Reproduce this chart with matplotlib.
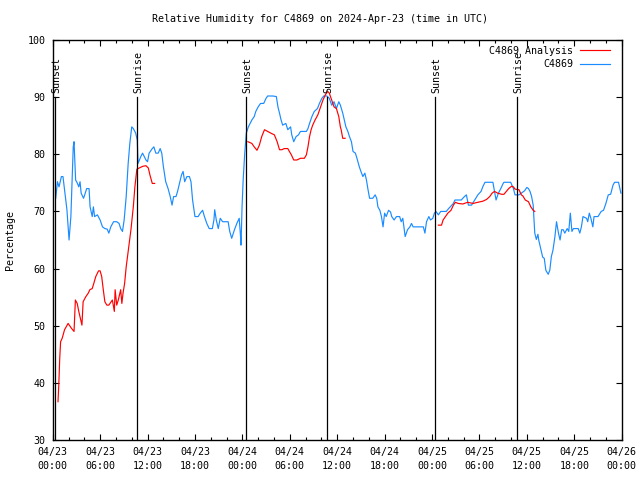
import numpy as np
import pandas as pd
import matplotlib
matplotlib.use("Agg")
import matplotlib.pyplot as plt

# hours since 2024-04-23 00:00 UTC
blue_h = [0.38, 0.6, 0.8, 1.1, 1.3, 1.5, 1.8, 2.07, 2.3, 2.6, 2.7, 2.9, 3.1, 3.3, 3.46, 3.6, 3.9, 4.05,
          4.3, 4.6, 4.73, 5.0, 5.15, 5.3, 5.66, 6.0, 6.3, 6.6, 6.9, 7.1, 7.35, 7.7, 8.1, 8.4, 8.6, 8.83,
          9.04, 9.3, 9.55, 9.76, 10.0, 10.2, 10.5, 10.7, 10.8, 11.15, 11.37, 11.8, 12.0, 12.2, 12.6, 12.8,
          13.05, 13.35, 13.6, 13.8, 14.0, 14.3, 14.6, 14.87, 15.1, 15.3, 15.6, 15.8, 16.1, 16.3, 16.5,
          16.7, 16.98, 17.3, 17.5, 17.7, 18.0, 18.4, 18.67, 18.97, 19.2, 19.5, 19.8, 20.2, 20.4, 20.5,
          20.7, 20.95, 21.2, 21.5, 22.2, 22.4, 22.65, 23.0, 23.3, 23.6, 23.74, 23.83, 23.96, 24.1, 24.3,
          24.5, 24.76, 25.2, 25.5, 25.7, 26.0, 26.3, 26.7, 27.0, 27.2, 27.85, 28.3, 28.5, 28.7, 28.9,
          29.1, 29.5, 29.75, 30.1, 30.25, 30.5, 30.8, 31.1, 31.35, 32.1, 32.3, 32.5, 32.8, 33.1, 33.5,
          33.75, 34.06, 34.3, 34.7, 35.0, 35.3, 35.6, 35.9, 36.2, 36.4, 36.7, 36.9, 37.1, 37.35, 37.55,
          37.8, 38.0, 38.3, 38.5, 38.8, 39.0, 39.25, 39.5, 39.7, 39.9, 40.1, 40.5, 40.8, 41.0, 41.15,
          41.4, 41.6, 41.8, 42.0, 42.2, 42.5, 42.75, 42.9, 43.2, 43.5, 43.9, 44.1, 44.3, 44.6, 44.9,
          45.2, 45.4, 45.6, 46.9, 47.1, 47.3, 47.6, 47.8, 48.1, 48.3, 48.5, 48.8, 49.1, 49.8, 50.1,
          50.7, 50.9, 51.7, 52.1, 52.35, 52.6, 53.0, 53.4, 53.8, 54.2, 54.45, 54.7, 55.7, 55.9, 56.1,
          56.4, 56.7, 57.0, 57.1, 57.95, 58.3, 58.5, 59.0, 59.3, 59.7, 60.0, 60.2, 60.4, 60.6, 60.8,
          60.9, 61.0, 61.2, 61.4, 61.5, 61.8, 62.0, 62.2, 62.4, 62.7, 62.9, 63.1, 63.3, 63.55, 63.75,
          64.0, 64.2, 64.4, 64.6, 64.8, 65.1, 65.3, 65.5, 65.7, 65.9, 66.5, 66.7, 66.9, 67.1, 67.55,
          67.7, 67.9, 68.1, 68.35, 68.5, 69.0, 69.4, 69.7, 70.0, 70.3, 70.6, 70.9, 71.1, 71.6, 71.9]
blue_v = [72.3, 75.2, 74.3, 76.1, 76.1, 73.8, 70.3, 65.0, 69.1, 81.3, 82.2, 75.5, 75.0, 74.3, 75.2, 73.2, 72.3, 72.9,
          74.0, 74.0, 70.8, 69.1, 70.8, 69.1, 69.4, 68.5, 67.3, 67.0, 66.9, 66.2, 67.3, 68.2, 68.2, 67.9, 67.0, 66.5,
          68.5, 72.6, 78.4, 81.9, 84.8, 84.5, 83.7, 82.5, 78.4, 79.6, 80.2, 79.0, 78.7, 80.2, 81.0, 81.3,
          80.2, 80.2, 81.0, 80.2, 77.9, 75.2, 74.0, 72.6, 71.1, 72.6, 72.6, 73.5, 75.2, 76.4, 77.0,
          75.2, 76.1, 76.1, 75.2, 72.0, 69.1, 69.1, 69.7, 70.2, 69.1, 67.9, 67.0, 67.0, 68.5, 70.3,
          68.5, 67.0, 68.8, 68.2, 68.2, 66.5, 65.3, 66.8, 67.9, 68.8, 66.2, 64.1, 70.8, 75.5, 80.2,
          83.7, 84.8, 86.0, 86.6, 87.5, 88.3, 88.9, 88.9, 89.8, 90.2, 90.2, 90.1, 88.3, 87.2, 86.0,
          85.1, 85.4, 84.3, 84.8, 83.4, 82.2, 83.1, 83.4, 84.0, 84.0, 84.5, 85.4, 86.6, 87.5, 88.0,
          88.9, 89.8, 90.2, 90.2, 89.8, 88.6, 89.2, 88.0, 89.2, 88.6, 87.2, 86.0, 84.8, 84.0, 83.1,
          82.2, 80.5, 80.2, 79.3, 77.8, 77.0, 76.1, 76.7, 75.5, 73.8, 72.3, 72.3, 72.9, 72.3, 70.8,
          70.2, 69.1, 67.3, 69.7, 69.1, 70.2, 69.9, 69.1, 68.5, 69.1, 69.1, 68.2, 68.8, 65.6, 66.8,
          67.3, 67.9, 67.3, 67.3, 66.2, 68.2, 69.1, 68.5, 68.8, 69.7, 70.0, 69.4, 70.0, 70.0, 70.5,
          71.4, 72.0, 72.0, 72.6, 72.9, 71.1, 71.1, 72.0, 72.9, 73.5, 74.4, 75.1, 75.1, 73.5, 72.0,
          73.2, 74.0, 74.9, 75.1, 75.1, 74.0, 72.9, 72.9, 73.2, 73.6, 74.2, 74.0, 73.5, 72.6, 71.1,
          68.8, 66.2, 65.1, 66.0, 65.0, 63.2, 62.0, 61.8, 59.7, 59.0, 59.7, 62.1, 63.2, 65.6, 68.2,
          66.2, 65.0, 66.8, 66.8, 66.2, 67.0, 66.5, 69.7, 66.5, 67.0, 67.0, 66.2, 67.3, 69.1, 68.8,
          68.2, 69.7, 68.8, 67.3, 69.1, 69.1, 70.0, 70.2, 71.4, 72.9, 73.0, 74.6, 75.1, 75.1, 73.2]

# analysis series (gaps between the three runs)
red_h = [0.67, 0.76, 0.89, 1.0, 1.2, 1.5, 1.95, 2.4, 2.7, 2.87, 3.1, 3.3, 3.55, 3.7, 3.85, 4.2, 4.5, 4.7,
         5.0, 5.2, 5.45, 5.8, 6.0, 6.2, 6.4, 6.6, 6.85, 7.1, 7.55, 7.8, 7.9, 8.1, 8.3, 8.6, 8.75, 8.9,
         9.1, 9.3, 9.55, 9.9, 10.2, 10.4, 10.65, 10.95, 11.4, 11.8, 12.1, 12.3, 12.6, 12.9, 13.0,
         24.7, 25.2, 25.5, 25.85, 26.15, 26.45, 26.8, 27.2, 27.6, 28.05, 28.4, 28.7, 29.0, 29.3, 29.75,
         29.95, 30.2, 30.5, 30.9, 31.35, 31.85, 32.1, 32.3, 32.5, 32.7, 32.9, 33.2, 33.55, 33.9, 34.2,
         34.5, 34.8, 35.0, 35.3, 35.6, 35.9, 36.2, 36.4, 36.5, 36.7, 37.0, 37.1,
         48.8, 49.2, 49.4, 49.7, 50.0, 50.4, 50.7, 50.95, 51.3, 51.9, 52.5, 53.2, 53.8, 54.45, 54.9,
         55.3, 55.6, 55.9, 56.3, 56.8, 57.1, 57.4, 57.7, 58.05, 58.3, 58.5, 59.0, 59.3, 59.5, 59.8,
         60.2, 60.5, 60.8, 61.0]
red_v = [36.7, 39.3, 44.3, 47.2, 47.8, 49.3, 50.4, 49.5, 49.0, 54.5, 53.9, 52.5, 51.0, 50.1, 54.2, 55.1, 55.7, 56.3,
         56.5, 57.4, 58.6, 59.6, 59.6, 58.6, 56.3, 54.2, 53.6, 53.6, 54.5, 52.5, 56.3, 53.6, 54.5, 56.3, 53.9, 55.7,
         57.4, 60.3, 63.0, 66.8, 70.8, 74.3, 77.4, 77.6, 77.9, 78.0, 77.6, 76.4, 74.9, 74.9, np.nan,
         82.2, 81.9, 81.3, 80.7, 81.6, 83.1, 84.3, 84.0, 83.7, 83.4, 82.2, 80.8, 80.8, 81.0, 81.0,
         80.5, 79.9, 79.0, 79.0, 79.3, 79.3, 79.9, 81.3, 83.1, 84.3, 85.1, 86.0, 86.9, 88.3, 89.5,
         90.4, 91.0, 90.7, 89.5, 88.3, 88.0, 86.6, 84.8, 84.3, 82.8, 82.8, np.nan,
         67.6, 67.6, 68.5, 69.1, 69.7, 70.2, 71.1, 71.6, 71.4, 71.3, 71.6, 71.4, 71.6, 71.8, 72.1,
         72.6, 73.2, 73.5, 73.2, 73.0, 73.0, 73.5, 74.0, 74.4, 74.3, 73.9, 73.8, 72.9, 72.7, 72.0,
         71.7, 70.8, 70.2, 70.0]

sun_h = [0.3, 10.65, 24.45, 34.7, 48.4, 58.7]
sun_lbl = ["Sunset", "Sunrise", "Sunset", "Sunrise", "Sunset", "Sunrise"]

tick_h = np.arange(0, 73, 6)
tick_lbl = pd.date_range("2024-04-23", periods=len(tick_h), freq="6h").strftime("%m/%d\n%H:%M")

plt.rcParams["font.family"] = "DejaVu Sans Mono"
plt.rcParams["font.size"] = 7.2

fig = plt.figure(figsize=(6.4, 4.8), dpi=100)
ax = fig.add_axes([52.7 / 640, 40 / 480, 569 / 640, 400 / 480])

blue, = ax.plot(blue_h, blue_v, color="#1a8cff", lw=0.85, label="C4869")
red, = ax.plot(red_h, red_v, color="#ff0000", lw=0.85, label="C4869 Analysis")

for h, s in zip(sun_h, sun_lbl):
    ax.plot([h, h], [30, 90], color="black", lw=0.9)
    ax.text(h + 0.2, 90.8, s, rotation=90, ha="center", va="bottom")

ax.set_xlim(0, 72)
ax.set_ylim(30, 100)
ax.set_xticks(tick_h)
labels = ax.set_xticklabels(tick_lbl)
for l in labels:
    l.set_linespacing(1.45)
ax.set_xticks(np.arange(0, 73, 2), minor=True)
ax.set_yticks(np.arange(30, 101, 10))
ax.tick_params(direction="in", top=True, right=True, length=4, width=0.8, pad=5)
ax.tick_params(which="minor", direction="in", top=True, bottom=True, length=2, width=0.8)
for sp in ax.spines.values():
    sp.set_linewidth(1.0)

fig.text(0.5, 1 - 19 / 480, "Relative Humidity for C4869 on 2024-Apr-23 (time in UTC)",
         ha="center", va="center")
fig.text(10 / 640, 0.5, "Percentage", rotation=90, ha="center", va="center")

ax.legend(handles=[red, blue], loc="upper right", bbox_to_anchor=(0.98, 0.985),
          frameon=False, markerfirst=False, borderaxespad=0, borderpad=0,
          handlelength=3.0, handletextpad=0.7, labelspacing=0.35)

fig.savefig("out.png", dpi=100)
